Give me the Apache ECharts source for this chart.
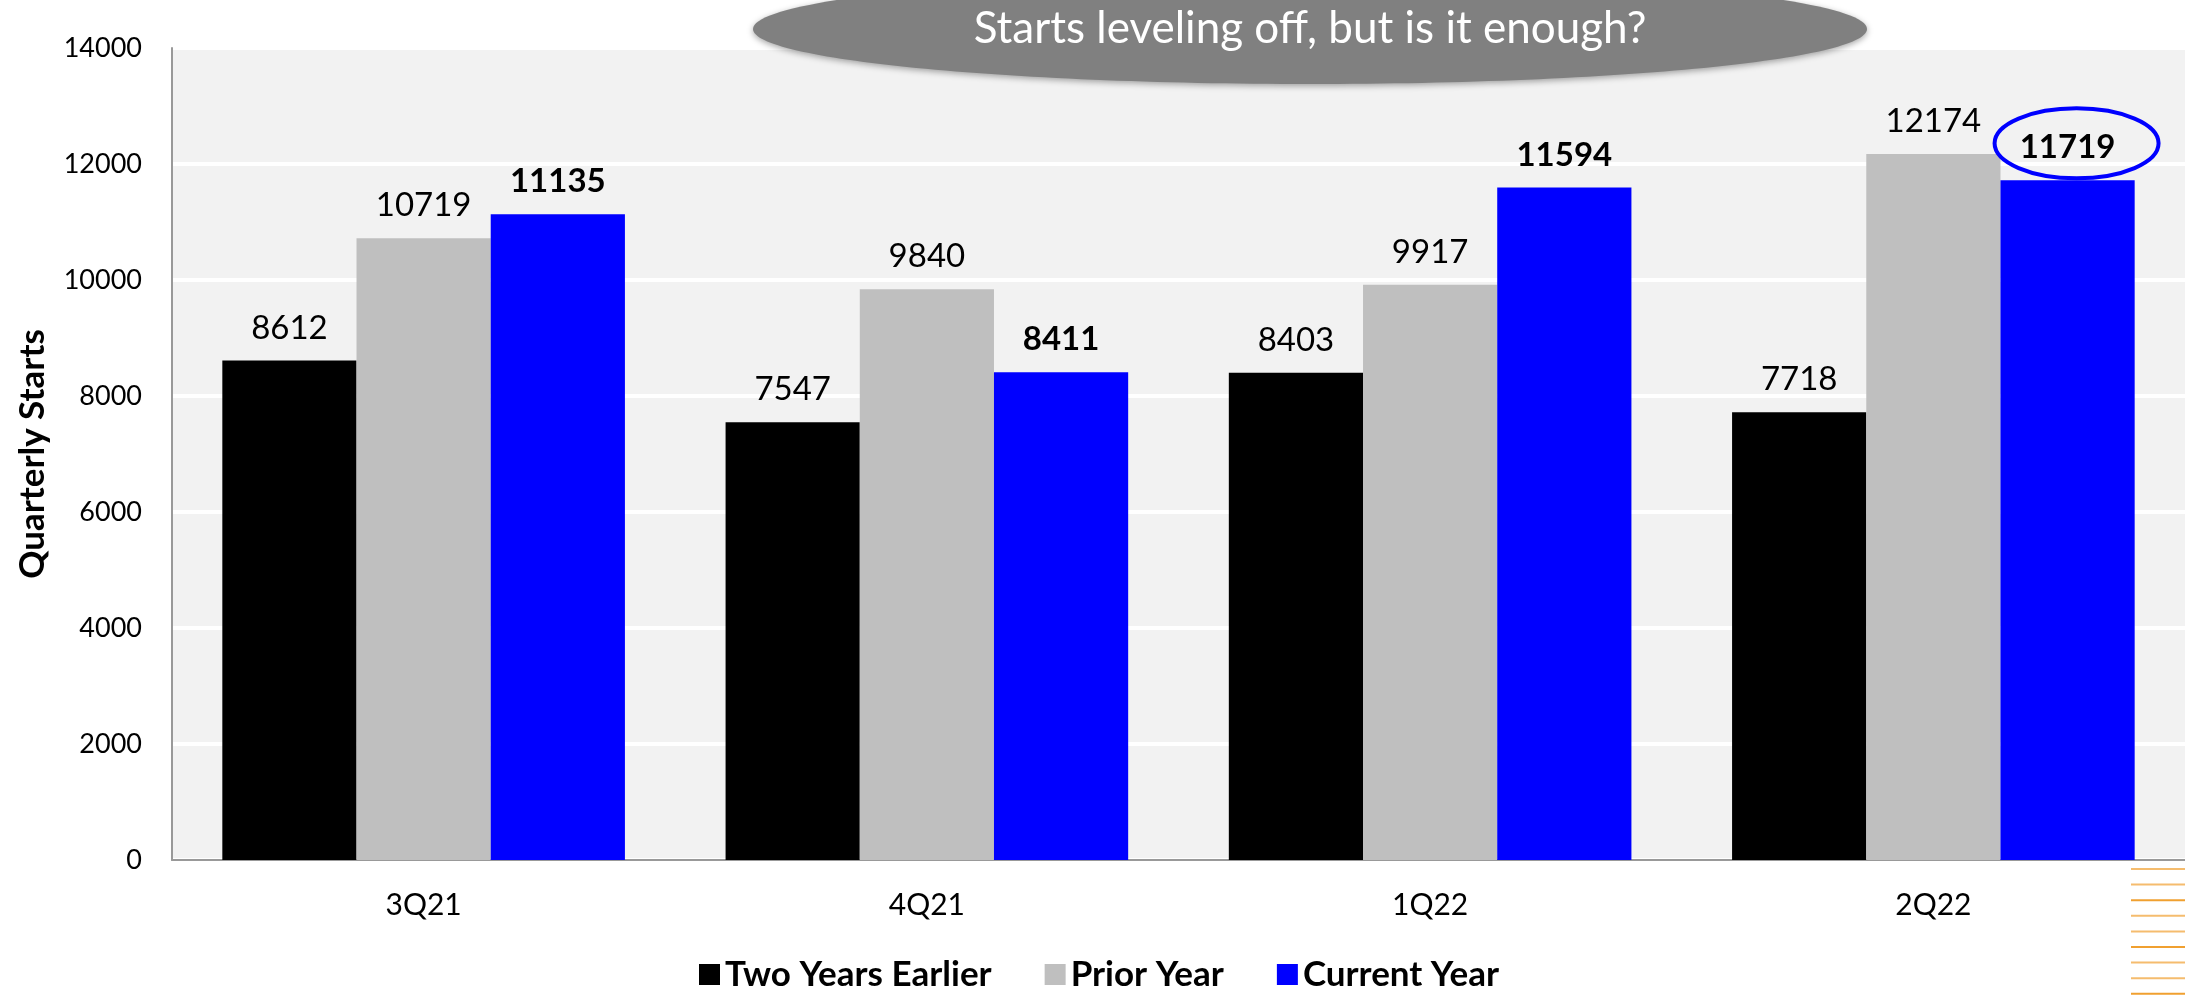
<!DOCTYPE html>
<html>
<head>
<meta charset="utf-8">
<script src="https://cdn.jsdelivr.net/npm/echarts@6/dist/echarts.min.js"></script>
<style>
  html, body { margin: 0; padding: 0; background: #ffffff; }
  #chart { width: 2185px; height: 995px; }
</style>
</head>
<body>
<div id="chart"></div>
<script>
const categories = ['3Q21', '4Q21', '1Q22', '2Q22'];
const seriesNames = ['Two Years Earlier', 'Prior Year', 'Current Year'];
const twoYearsEarlier = [8612, 7547, 8403, 7718];
const priorYear = [10719, 9840, 9917, 12174];
const currentYear = [11135, 8411, 11594, 11719];
const yMin = 0, yMax = 14000, yInterval = 2000;
const titleText = 'Starts leveling off, but is it enough?';
const yAxisTitle = 'Quarterly Starts';
const highlightIndex = 3;

const FONT = 'Lato, "Open Sans", sans-serif';
const chart = echarts.init(document.getElementById('chart'), null, { renderer: 'canvas' });

// decorative orange lines bottom-right
const orangeLines = [];
for (let k = 0; k < 9; k++) {
  orangeLines.push({
    type: 'line',
    shape: { x1: 2131, y1: 869 + k * 15.6, x2: 2185, y2: 869 + k * 15.6 },
    style: { stroke: (k % 3 === 2) ? '#F0A030' : '#F5BC6E', lineWidth: 2 },
    z: 10
  });
}

const labelBase = { show: true, position: 'top', distance: 16, color: '#000', fontSize: 33, fontFamily: FONT };

const option = {
  backgroundColor: '#ffffff',
  animation: false,
  grid: {
    left: 172, right: 0, top: 48, bottom: 135,
    show: true, backgroundColor: '#F2F2F2', borderWidth: 0
  },
  legend: {
    data: seriesNames,
    left: 699, top: 957, padding: 0,
    icon: 'rect', itemWidth: 21, itemHeight: 21, itemGap: 53,
    textStyle: { fontSize: 35, fontWeight: 'bold', color: '#000', fontFamily: FONT }
  },
  xAxis: {
    type: 'category',
    data: categories,
    axisLine: { show: true, lineStyle: { color: '#999999', width: 2 } },
    axisTick: { show: false },
    axisLabel: { color: '#000', fontSize: 30, fontFamily: FONT, margin: 30 },
    splitLine: { show: false }
  },
  yAxis: {
    type: 'value',
    min: yMin, max: yMax, interval: yInterval,
    name: yAxisTitle,
    nameLocation: 'middle',
    nameGap: 122,
    nameRotate: 90,
    nameTextStyle: { fontSize: 35, fontWeight: 'bold', color: '#000', fontFamily: FONT },
    axisLine: { show: true, lineStyle: { color: '#999999', width: 2 } },
    axisTick: { show: false },
    axisLabel: { color: '#000', fontSize: 27, fontFamily: FONT, margin: 30, formatter: function (v) { return String(v); } },
    splitLine: { show: true, lineStyle: { color: '#ffffff', width: 4 } }
  },
  series: [
    {
      name: seriesNames[0], type: 'bar', data: twoYearsEarlier,
      barGap: '0%', barCategoryGap: '20%',
      itemStyle: { color: '#000000' },
      label: Object.assign({}, labelBase)
    },
    {
      name: seriesNames[1], type: 'bar', data: priorYear,
      barGap: '0%', barCategoryGap: '20%',
      itemStyle: { color: '#BFBFBF' },
      label: Object.assign({}, labelBase)
    },
    {
      name: seriesNames[2], type: 'bar', data: currentYear,
      barGap: '0%', barCategoryGap: '20%',
      itemStyle: { color: '#0000FF' },
      label: Object.assign({}, labelBase, { fontWeight: 'bold' })
    }
  ],
  graphic: []
};

chart.setOption(option);

// annotation positions derived from the axes
const pCat = chart.convertToPixel({ xAxisIndex: 0, yAxisIndex: 0 }, [highlightIndex, currentYear[highlightIndex]]);
const pCat0 = chart.convertToPixel({ xAxisIndex: 0, yAxisIndex: 0 }, [0, 0]);
const pCat1 = chart.convertToPixel({ xAxisIndex: 0, yAxisIndex: 0 }, [1, 0]);
const catW = pCat1[0] - pCat0[0];
const barW = catW * 0.8 / 3;
const hx = pCat[0] + barW + 9;
const hy = pCat[1] - 37;

chart.setOption({
  graphic: [
    {
      type: 'ellipse',
      shape: { cx: 1310, cy: 29, rx: 557, ry: 55 },
      style: { fill: '#808080', shadowBlur: 6, shadowColor: 'rgba(0,0,0,0.35)', shadowOffsetY: 2 },
      z: 20
    },
    {
      type: 'text',
      x: 1310, y: 29,
      style: {
        text: titleText, fill: '#ffffff', fontSize: 44, fontFamily: FONT,
        align: 'center', verticalAlign: 'middle'
      },
      z: 21
    },
    {
      type: 'ellipse',
      shape: { cx: hx, cy: hy, rx: 82, ry: 35 },
      style: { fill: 'none', stroke: '#0000FF', lineWidth: 4 },
      z: 20
    }
  ].concat(orangeLines)
});
</script>
</body>
</html>
